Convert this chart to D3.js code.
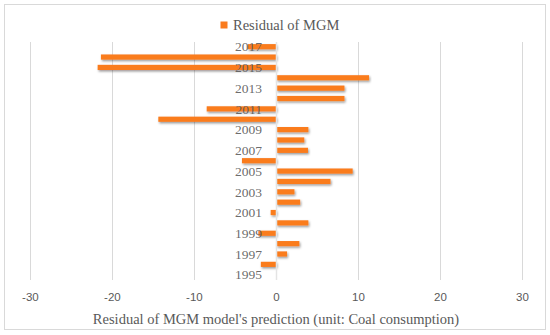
<!DOCTYPE html>
<html>
<head>
<meta charset="utf-8">
<script src="https://cdn.jsdelivr.net/npm/d3@7"></script>
<style>
  html, body { margin: 0; padding: 0; background: #fff; }
  svg { display: block; }
</style>
</head>
<body>
<svg id="chart" width="550" height="335"></svg>
<script>
// ---- data ----
const years = [1995, 1996, 1997, 1998, 1999, 2000, 2001, 2002, 2003, 2004, 2005, 2006,
               2007, 2008, 2009, 2010, 2011, 2012, 2013, 2014, 2015, 2016, 2017];
const residuals = [0, -1.9, 1.3, 2.8, -2.2, 3.9, -0.7, 2.9, 2.2, 6.6, 9.3, -4.2,
                   3.85, 3.4, 3.9, -14.4, -8.5, 8.3, 8.3, 11.3, -21.8, -21.4, -3.5];
const yearLabels = [1995, 1997, 1999, 2001, 2003, 2005, 2007, 2009, 2011, 2013, 2015, 2017];
const xTicks = [-30, -20, -10, 0, 10, 20, 30];
const seriesName = "Residual of MGM";
const xTitle = "Residual of MGM model's prediction (unit: Coal consumption)";

const svg = d3.select("#chart");
const serif = "'Liberation Serif', 'Times New Roman', serif";
const sans = "'Liberation Sans', Arial, sans-serif";
const grey = "#595959";
const orange = "#FA7B1E";

// frame
svg.append("rect").attr("x", 4.5).attr("y", 4.5).attr("width", 541).attr("height", 325)
  .attr("fill", "#fff").attr("stroke", "#d9d9d9").attr("stroke-width", 1);

// shadow filter
const defs = svg.append("defs");
const f = defs.append("filter").attr("id", "shadow")
  .attr("x", "-10%").attr("y", "-50%").attr("width", "130%").attr("height", "250%");
f.append("feDropShadow").attr("dx", 1).attr("dy", 1.5).attr("stdDeviation", 0.8)
  .attr("flood-color", "#000").attr("flood-opacity", 0.4);

const x = d3.scaleLinear().domain([-30, 30]).range([30.4, 522.4]);
const y = d3.scaleBand().domain(years.slice().reverse()).range([41.5, 279.9]).paddingInner(0.5).paddingOuter(0.25);

// gridlines
svg.append("g").selectAll("line").data(xTicks).join("line")
  .attr("x1", d => Math.round(x(d)) + 0.5).attr("x2", d => Math.round(x(d)) + 0.5)
  .attr("y1", 42).attr("y2", 280)
  .attr("stroke", "#d9d9d9").attr("stroke-width", 1);

// bars
const data = years.map((yr, i) => ({ year: yr, value: residuals[i] }));
svg.append("g").attr("filter", "url(#shadow)").selectAll("rect").data(data).join("rect")
  .attr("x", d => x(Math.min(0, d.value)))
  .attr("width", d => Math.abs(x(d.value) - x(0)))
  .attr("y", d => y(d.year))
  .attr("height", y.bandwidth())
  .attr("fill", orange);

// zero line on top
svg.append("line")
  .attr("x1", Math.round(x(0)) + 0.5).attr("x2", Math.round(x(0)) + 0.5)
  .attr("y1", 42).attr("y2", 280)
  .attr("stroke", "#e4e4e4").attr("stroke-width", 1.5);

// year labels (drawn over bars)
svg.append("g").selectAll("text").data(yearLabels).join("text")
  .attr("x", 262).attr("y", d => y(d) + y.bandwidth() / 2)
  .attr("dy", "0.35em").attr("text-anchor", "end")
  .attr("font-family", serif).attr("font-size", 13.5).attr("fill", grey)
  .attr("fill-opacity", 0.9)
  .text(d => d);

// x tick labels
svg.append("g").selectAll("text").data(xTicks).join("text")
  .attr("x", d => x(d)).attr("y", 297).attr("dy", "0.35em")
  .attr("text-anchor", "middle")
  .attr("font-family", sans).attr("font-size", 11.5).attr("fill", grey)
  .text(d => d);

// x title
svg.append("text")
  .attr("x", 276).attr("y", 319).attr("dy", "0.35em")
  .attr("text-anchor", "middle")
  .attr("font-family", serif).attr("font-size", 14.5).attr("fill", grey)
  .text(xTitle);

// legend
const lg = svg.append("g");
lg.append("rect").attr("x", 220.5).attr("y", 21.5).attr("width", 7).attr("height", 7).attr("fill", orange);
lg.append("text").attr("x", 233).attr("y", 25).attr("dy", "0.35em")
  .attr("font-family", serif).attr("font-size", 14.5).attr("fill", grey)
  .text(seriesName);
</script>
</body>
</html>
